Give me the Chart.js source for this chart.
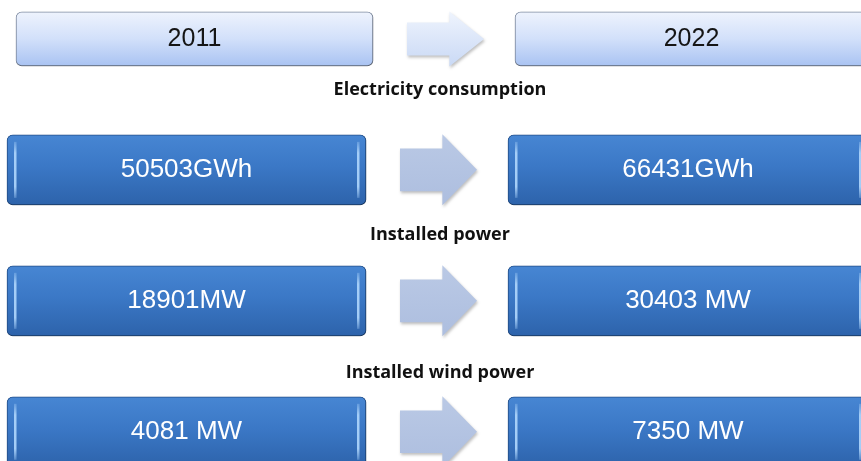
<!DOCTYPE html>
<html lang="en">
  <head>
    <meta charset="UTF-8" />
    <title>Electricity 2011 - 2022</title>
    <style>
      html, body { margin: 0; padding: 0; background: #fff; }
      .wrap { position: relative; width: 861px; height: 461px; }
    </style>
  </head>
  <body>
    <div class="wrap">
      <canvas id="chart-1"></canvas>
    </div>
    <script src="https://cdn.jsdelivr.net/npm/chart.js"></script>
    <script>
      const years = ["2011", "2022"];
      const metrics = ["Electricity consumption", "Installed power", "Installed wind power"];
      const values2011 = [50503, 18901, 4081];
      const values2022 = [66431, 30403, 7350];
      const labels2011 = ["50503GWh", "18901MW", "4081 MW"];
      const labels2022 = ["66431GWh", "30403 MW", "7350 MW"];

      // box columns (x scale runs 0..861)
      const headCols = [[16, 373], [515, 868]];
      const rowCols = [[7, 366], [508, 868]];
      // where the small titles sit on the row scale
      const titlePos = [0.39, 1.5, 2.55];

      function boxGradient(ctx, top, bottom, stops) {
        const g = ctx.createLinearGradient(0, top, 0, bottom);
        stops.forEach((s) => g.addColorStop(s[0], s[1]));
        return g;
      }

      function scriptFill(stops, thick) {
        return function (c) {
          const chart = c.chart;
          const y = chart.scales.y;
          if (c.type !== "data" || !y || !c.raw) return stops[1][1];
          const py = y.getPixelForValue(c.raw.y);
          if (!isFinite(py)) return stops[1][1];
          return boxGradient(chart.ctx, py - thick / 2, py + thick / 2, stops);
        };
      }

      const headStops = [[0, "#eef3fd"], [0.5, "#d2e0fa"], [1, "#a9c3f2"]];
      const rowStops = [[0, "#4786d3"], [0.45, "#3b78c6"], [1, "#2d63ab"]];

      const headStyle = {
        barThickness: 54,
        backgroundColor: scriptFill(headStops, 54),
        borderColor: "#8592a8",
        borderWidth: 1,
        borderRadius: 6,
        borderSkipped: false,
      };
      const rowStyle = {
        barThickness: 70,
        backgroundColor: scriptFill(rowStops, 70),
        borderColor: "#24528f",
        borderWidth: 1,
        borderRadius: 6,
        borderSkipped: false,
      };

      function drawArrow(ctx, x0, x1, cy, h, fill) {
        const headLen = (x1 - x0) * 0.45;
        const shaft = h * 0.6;
        ctx.beginPath();
        ctx.moveTo(x0, cy - shaft / 2);
        ctx.lineTo(x1 - headLen, cy - shaft / 2);
        ctx.lineTo(x1 - headLen, cy - h / 2);
        ctx.lineTo(x1, cy);
        ctx.lineTo(x1 - headLen, cy + h / 2);
        ctx.lineTo(x1 - headLen, cy + shaft / 2);
        ctx.lineTo(x0, cy + shaft / 2);
        ctx.closePath();
        ctx.fillStyle = fill;
        ctx.fill();
      }

      const infoPlugin = {
        id: "info",
        beforeDatasetDraw(chart) {
          const ctx = chart.ctx;
          ctx.save();
          ctx.shadowColor = "rgba(0,0,0,0.35)";
          ctx.shadowBlur = 3;
          ctx.shadowOffsetX = 1;
          ctx.shadowOffsetY = 2;
        },
        afterDatasetDraw(chart) {
          chart.ctx.restore();
        },
        afterDatasetsDraw(chart) {
          const ctx = chart.ctx;
          const yScale = chart.scales.y;
          const headL = chart.getDatasetMeta(0).data;
          const headR = chart.getDatasetMeta(1).data;
          const rowL = chart.getDatasetMeta(2).data;
          const rowR = chart.getDatasetMeta(3).data;

          // arrows between the two columns
          const pairs = [[headL[0], headR[0], true]];
          rowL.forEach((el, i) => pairs.push([el, rowR[i], false]));
          pairs.forEach(([l, r, isHead]) => {
            const x0 = l.x + 34;
            const x1 = r.base - 31;
            const h = l.height + 1;
            ctx.save();
            ctx.shadowColor = "rgba(0,0,0,0.25)";
            ctx.shadowBlur = 3;
            ctx.shadowOffsetX = 1;
            ctx.shadowOffsetY = 2;
            const fill = isHead
              ? boxGradient(ctx, l.y - h / 2, l.y + h / 2, [[0, "#eff4fd"], [1, "#c9d9f5"]])
              : boxGradient(ctx, l.y - h / 2, l.y + h / 2, [[0, "#bac9e5"], [1, "#adbedf"]]);
            drawArrow(ctx, x0, x1, l.y, h, fill);
            ctx.restore();
          });

          // light edges inside the dark boxes
          rowL.concat(rowR).forEach((el) => {
            const top = el.y - el.height / 2 + 7;
            const bot = el.y + el.height / 2 - 7;
            const g = boxGradient(ctx, top, bot, [
              [0, "rgba(170,210,250,0.3)"],
              [0.2, "rgba(170,210,250,0.95)"],
              [0.8, "rgba(170,210,250,0.95)"],
              [1, "rgba(170,210,250,0.3)"],
            ]);
            ctx.fillStyle = g;
            ctx.fillRect(el.base + 7, top, 2.5, bot - top);
            ctx.fillRect(el.x - 9, top, 2.5, bot - top);
          });

          ctx.save();
          ctx.textAlign = "center";
          ctx.textBaseline = "alphabetic";

          ctx.font = '25px "Liberation Sans", Arial, sans-serif';
          ctx.fillStyle = "#151515";
          [headL[0], headR[0]].forEach((el, i) => {
            ctx.fillText(years[i], (el.x + el.base) / 2, el.y + 7);
          });

          ctx.font = '26px "Liberation Sans", Arial, sans-serif';
          ctx.fillStyle = "#ffffff";
          rowL.forEach((el, i) => {
            ctx.fillText(labels2011[i], (el.x + el.base) / 2, el.y + 7.5);
          });
          rowR.forEach((el, i) => {
            ctx.fillText(labels2022[i], (el.x + el.base) / 2, el.y + 7.5);
          });

          ctx.font = 'bold 18px "Open Sans", Lato, sans-serif';
          ctx.fillStyle = "#111";
          metrics.forEach((m, i) => {
            ctx.fillText(m, 440, yScale.getPixelForValue(titlePos[i]) + 5);
          });
          ctx.restore();
        },
      };

      new Chart(document.getElementById("chart-1"), {
        type: "bar",
        data: {
          datasets: [
            Object.assign({ label: years[0], data: [{ y: 0, x: headCols[0] }] }, headStyle),
            Object.assign({ label: years[1], data: [{ y: 0, x: headCols[1] }] }, headStyle),
            Object.assign(
              { label: years[0] + " values", data: values2011.map((v, i) => ({ y: i + 1, x: rowCols[0], v: v })) },
              rowStyle
            ),
            Object.assign(
              { label: years[1] + " values", data: values2022.map((v, i) => ({ y: i + 1, x: rowCols[1], v: v })) },
              rowStyle
            ),
          ],
        },
        options: {
          indexAxis: "y",
          responsive: true,
          maintainAspectRatio: false,
          animation: false,
          events: [],
          layout: { padding: 0 },
          datasets: { bar: { grouped: false } },
          scales: {
            x: { type: "linear", min: 0, max: 861, display: false },
            y: { type: "linear", min: -0.297, max: 3.223, reverse: true, offset: false, display: false },
          },
          plugins: {
            legend: { display: false },
            tooltip: { enabled: false },
          },
        },
        plugins: [infoPlugin],
      });
    </script>
  </body>
</html>
